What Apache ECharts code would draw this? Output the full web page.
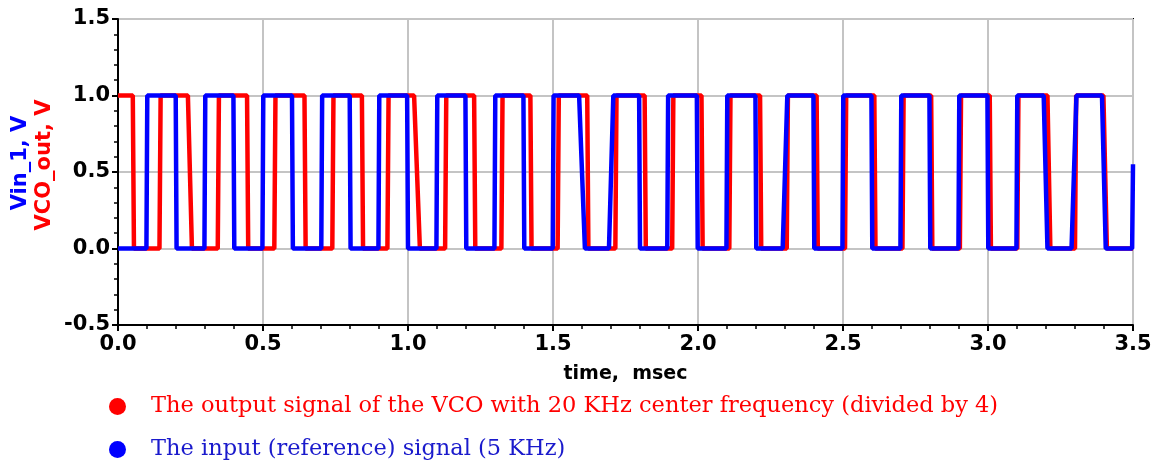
<!DOCTYPE html>
<html>
<head>
<meta charset="utf-8">
<script src="https://cdn.jsdelivr.net/npm/echarts@6/dist/echarts.min.js"></script>
<style>html,body{margin:0;padding:0;background:#fff}#c{width:1155px;height:465px}</style>
</head>
<body>
<div id="c"></div>
<script>
// x axis: time, msec ; y axis: volts
const xTicks = [0.0, 0.5, 1.0, 1.5, 2.0, 2.5, 3.0, 3.5];
const yTicks = [-0.5, 0.0, 0.5, 1.0, 1.5];

// VCO_out (divided by 4), red: [time, V]
const vcoOut = [
  [0,1],[0.051,1],[0.055,0],[0.143,0],[0.147,1],[0.241,1],[0.255,0],[0.344,0],[0.348,1],
  [0.445,1],[0.449,0],[0.539,0],[0.543,1],[0.643,1],[0.647,0],[0.739,0],[0.743,1],
  [0.841,1],[0.845,0],[0.929,0],[0.933,1],[1.021,1],[1.041,0],[1.128,0],[1.132,1],
  [1.228,1],[1.232,0],[1.322,0],[1.326,1],[1.422,1],[1.426,0],[1.516,0],[1.520,1],
  [1.618,1],[1.622,0],[1.715,0],[1.719,1],[1.816,1],[1.820,0],[1.911,0],[1.915,1],
  [2.012,1],[2.016,0],[2.108,0],[2.112,1],[2.214,1],[2.218,0],[2.306,0],[2.310,1],
  [2.409,1],[2.413,0],[2.507,0],[2.511,1],[2.608,1],[2.612,0],[2.705,0],[2.709,1],
  [2.804,1],[2.808,0],[2.903,0],[2.907,1],[3.006,1],[3.010,0],[3.101,0],[3.105,1],
  [3.205,1],[3.215,0],[3.300,0],[3.304,1],[3.398,1],[3.410,0],[3.5,0]
];

// Vin_1 (reference 5 KHz), blue: [time, V]
const vin1 = [
  [0,0],[0.098,0],[0.101,1],[0.199,1],[0.202,0],[0.298,0],[0.301,1],[0.398,1],[0.401,0],
  [0.498,0],[0.501,1],[0.600,1],[0.603,0],[0.701,0],[0.704,1],[0.799,1],[0.802,0],
  [0.898,0],[0.901,1],[0.997,1],[1.000,0],[1.098,0],[1.101,1],[1.198,1],[1.201,0],
  [1.298,0],[1.301,1],[1.398,1],[1.401,0],[1.499,0],[1.502,1],[1.590,1],[1.610,0],
  [1.693,0],[1.708,1],[1.797,1],[1.800,0],[1.894,0],[1.897,1],[1.996,1],[1.999,0],
  [2.098,0],[2.101,1],[2.198,1],[2.201,0],[2.292,0],[2.308,1],[2.398,1],[2.401,0],
  [2.498,0],[2.501,1],[2.598,1],[2.601,0],[2.698,0],[2.701,1],[2.798,1],[2.801,0],
  [2.898,0],[2.901,1],[2.998,1],[3.001,0],[3.098,0],[3.101,1],[3.192,1],[3.205,0],
  [3.288,0],[3.305,1],[3.393,1],[3.406,0],[3.497,0],[3.5,0.55]
];

const legendNames = [
  'The output signal of the VCO with 20 KHz center frequency (divided by 4)',
  'The input (reference) signal (5 KHz)'
];

const chart = echarts.init(document.getElementById('c'), null, {renderer: 'canvas'});
const sans = '"DejaVu Sans", "Liberation Sans", Arial, sans-serif';
const serif = '"DejaVu Serif", serif';
chart.setOption({
  animation: false,
  backgroundColor: '#fff',
  grid: {left: 118, right: 22, top: 19, bottom: 140, show: true, borderColor: '#000', borderWidth: 2, backgroundColor: 'transparent'},
  xAxis: {
    type: 'value', min: xTicks[0], max: xTicks[xTicks.length - 1], interval: 0.5,
    name: 'time,  msec', nameLocation: 'middle', nameGap: 40,
    nameTextStyle: {fontFamily: sans, fontWeight: 'bold', fontSize: 19, color: '#000'},
    axisLine: {onZero: false, lineStyle: {color: '#000', width: 2}},
    axisTick: {show: true, length: 6, lineStyle: {color: '#000', width: 2}},
    minorTick: {show: true, splitNumber: 5, length: 4, lineStyle: {color: '#000', width: 1.5}},
    axisLabel: {fontFamily: sans, fontWeight: 'bold', fontSize: 21, color: '#000', margin: 9,
      formatter: v => v.toFixed(1)},
    splitLine: {show: true, lineStyle: {color: '#c4c4c4', width: 2}}
  },
  yAxis: {
    type: 'value', min: yTicks[0], max: yTicks[yTicks.length - 1], interval: 0.5,
    axisLine: {show: true, onZero: false, lineStyle: {color: '#000', width: 2}},
    axisTick: {show: true, length: 6, lineStyle: {color: '#000', width: 2}},
    minorTick: {show: true, splitNumber: 5, length: 4, lineStyle: {color: '#000', width: 1.5}},
    axisLabel: {fontFamily: sans, fontWeight: 'bold', fontSize: 21, color: '#000', margin: 8,
      formatter: v => v.toFixed(1)},
    splitLine: {show: true, lineStyle: {color: '#c4c4c4', width: 2}}
  },
  legend: {
    orient: 'vertical', left: 109, top: 395, height: 70, padding: 0,
    itemGap: 20, itemWidth: 17, itemHeight: 17,
    icon: 'circle',
    data: [
      {name: legendNames[0], textStyle: {color: '#ff0000'}},
      {name: legendNames[1], textStyle: {color: '#1a1acc'}}
    ],
    textStyle: {fontFamily: serif, fontSize: 22.5, padding: [0, 0, 0, 20]}
  },
  graphic: [
    {type: 'text', x: 21, y: 163, rotation: Math.PI / 2,
      style: {text: 'Vin_1, V', fill: '#0000ff', font: 'bold 21px "DejaVu Sans", sans-serif', textAlign: 'center', textVerticalAlign: 'middle'}},
    {type: 'text', x: 45, y: 165, rotation: Math.PI / 2,
      style: {text: 'VCO_out, V', fill: '#ff0000', font: 'bold 21px "DejaVu Sans", sans-serif', textAlign: 'center', textVerticalAlign: 'middle'}}
  ],
  series: [
    {name: legendNames[0], type: 'line', data: vcoOut, showSymbol: false, symbol: 'circle',
      color: '#ff0000', lineStyle: {color: '#ff0000', width: 4.5}, z: 2},
    {name: legendNames[1], type: 'line', data: vin1, showSymbol: false, symbol: 'circle',
      color: '#0000ff', lineStyle: {color: '#0000ff', width: 4.5}, z: 3}
  ]
});
</script>
</body>
</html>
